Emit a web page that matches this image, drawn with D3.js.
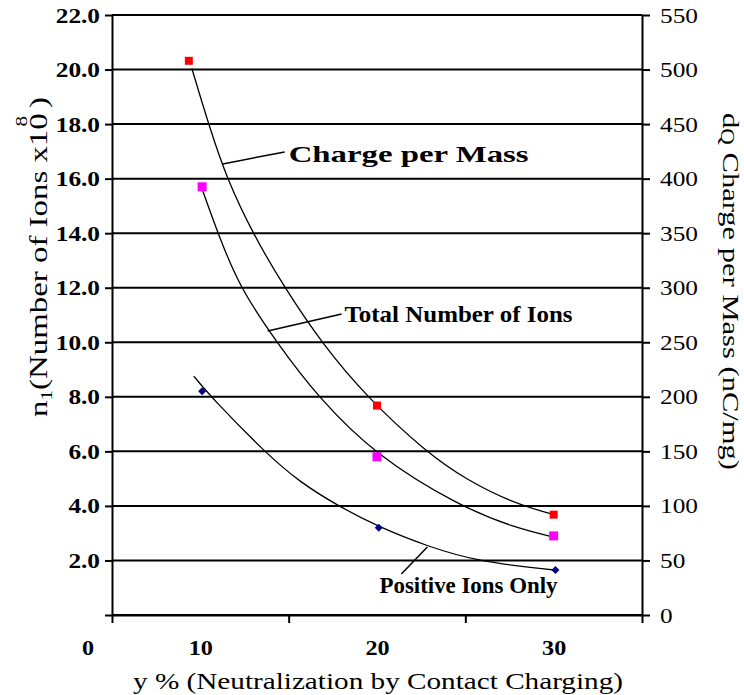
<!DOCTYPE html>
<html><head><meta charset="utf-8">
<script src="https://cdn.jsdelivr.net/npm/d3@7/dist/d3.min.js"></script>
<style>
html,body{margin:0;padding:0;background:#fff;}
svg{display:block;}
text{font-family:"Liberation Serif","Times New Roman",serif;fill:#000;}
</style></head><body>
<svg id="chart" width="744" height="695"></svg>
<script>
// ---------------- data ----------------
const xCategories = [10, 20, 30];
const xBoundaryTicks = [5, 15, 25, 35];
const leftTicks = [0, 2, 4, 6, 8, 10, 12, 14, 16, 18, 20, 22];
const rightTicks = [0, 50, 100, 150, 200, 250, 300, 350, 400, 450, 500, 550];

// Charge per mass (right axis, nC/mg)
const chargeX = [9.35, 20, 30];
const chargeValues = [508, 192, 92];
// Total number of ions (left axis, x10^8)
const totalX = [10.1, 20, 30];
const totalValues = [15.7, 5.8, 2.9];
// Positive ions only (left axis, x10^8)
const positiveX = [10.1, 20.1, 30.1];
const positiveValues = [8.2, 3.2, 1.65];

// trend curves
const chargeCurveX = [9.52, 10.54, 11.5, 13.02, 14.77, 16.92, 19.41, 22.8, 25.06, 27.65, 30];
const chargeCurveV = [501, 446, 400, 348, 300, 248, 200, 149, 124, 103, 92];
const totalCurveX = [10.14, 10.99, 12.23, 14.32, 16.64, 19.97, 24.66, 27.66, 29.98];
const totalCurveV = [15.55, 14.0, 12.0, 10.0, 8.0, 5.83, 4.0, 3.23, 2.86];
const positiveCurveX = [9.63, 10.65, 13.76, 15.62, 17.71, 20.08, 22.8, 25.79, 30.03];
const positiveCurveV = [8.76, 7.96, 5.90, 4.88, 4.03, 3.23, 2.53, 1.94, 1.65];

// annotations (left-axis units)
const annotationTexts = ["Charge per Mass", "Total Number of Ions", "Positive Ions Only"];
const annotationCurvePt = [[11.27, 16.54], [13.81, 10.41], [22.85, 2.49]];
const annotationElbowPt = [[14.77, 16.98], [18.0, 11.04], [21.38, 1.50]];
const annotationTextPt = [[15.0, 16.61], [18.16, 10.74], [20.14, 0.81]];

// ---------------- layout ----------------
const annotationWidths = [240, 228, 178];
const svg = d3.select('#chart');
const P = {left: 112, right: 642, top: 15, bottom: 615};
const x = d3.scaleLinear().domain([5, 35]).range([P.left, P.right]);
const yL = d3.scaleLinear().domain([0, 22]).range([P.bottom, P.top]);
const yR = d3.scaleLinear().domain([0, 550]).range([P.bottom, P.top]);

function stretch(sel, k) {
  sel.each(function () {
    const L = this.getComputedTextLength();
    d3.select(this).attr('textLength', L * k).attr('lengthAdjust', 'spacingAndGlyphs');
  });
}
function fitTo(sel, target) {
  sel.attr('textLength', target).attr('lengthAdjust', 'spacingAndGlyphs');
}

// grid
svg.append('g').selectAll('line').data(leftTicks).join('line')
  .attr('x1', P.left).attr('x2', P.right)
  .attr('y1', d => yL(d)).attr('y2', d => yL(d))
  .attr('stroke', '#000').attr('stroke-width', 2);

function styleAxis(g) {
  g.attr('font-family', null);
  g.selectAll('path.domain').attr('stroke', '#000').attr('stroke-width', 2);
  g.selectAll('.tick line').attr('stroke', '#000').attr('stroke-width', 2);
  g.selectAll('.tick text').attr('fill', '#000')
    .style('font-family', '"Liberation Serif","Times New Roman",serif');
}

// left axis
const gL = svg.append('g').attr('transform', `translate(${P.left},0)`)
  .call(d3.axisLeft(yL).tickValues(leftTicks).tickSize(7).tickSizeOuter(0).tickPadding(5)
    .tickFormat(d => d === 0 ? '' : d3.format('.1f')(d)));
styleAxis(gL);
gL.selectAll('.tick text').style('font-size', '22px').style('font-weight', 'bold').call(stretch, 1.15);

// right axis
const gR = svg.append('g').attr('transform', `translate(${P.right},0)`)
  .call(d3.axisRight(yR).tickValues(rightTicks).tickSize(8).tickSizeOuter(0).tickPadding(10));
styleAxis(gR);
gR.selectAll('.tick text').style('font-size', '22px').call(stretch, 1.15);

// bottom axis ticks
const gB = svg.append('g').attr('transform', `translate(0,${P.bottom})`)
  .call(d3.axisBottom(x).tickValues(xBoundaryTicks).tickSize(8).tickSizeOuter(0).tickFormat(''));
styleAxis(gB);
const gB2 = svg.append('g').attr('transform', `translate(0,${P.bottom})`)
  .call(d3.axisBottom(x).tickValues(xCategories).tickSize(0).tickPadding(24).tickFormat(d3.format('d')));
gB2.select('path.domain').remove();
styleAxis(gB2);
gB2.selectAll('.tick text').style('font-size', '22px').style('font-weight', 'bold').call(stretch, 1.1);
// origin label
svg.append('text').attr('x', P.left - 24).attr('y', P.bottom + 40).attr('text-anchor', 'middle')
  .style('font-size', '22px').style('font-weight', 'bold').text('0').call(stretch, 1.1);

// curves
const zip = (a, b) => a.map((v, i) => [v, b[i]]);
const lineL = d3.line().x(d => x(d[0])).y(d => yL(d[1])).curve(d3.curveBasis);
const lineR = d3.line().x(d => x(d[0])).y(d => yR(d[1])).curve(d3.curveBasis);
const gC = svg.append('g').attr('fill', 'none').attr('stroke', '#000').attr('stroke-width', 1.3);
gC.append('path').attr('d', lineR(zip(chargeCurveX, chargeCurveV)));
gC.append('path').attr('d', lineL(zip(totalCurveX, totalCurveV)));
gC.append('path').attr('d', lineL(zip(positiveCurveX, positiveCurveV)));

// points
svg.append('g').selectAll('rect').data(zip(chargeX, chargeValues)).join('rect')
  .attr('x', d => x(d[0]) - 4).attr('y', d => yR(d[1]) - 4).attr('width', 8).attr('height', 8)
  .attr('fill', '#ff0000');
svg.append('g').selectAll('rect').data(zip(totalX, totalValues)).join('rect')
  .attr('x', d => x(d[0]) - 4.5).attr('y', d => yL(d[1]) - 4.5).attr('width', 9).attr('height', 9)
  .attr('fill', '#ff00ff');
svg.append('g').selectAll('path').data(zip(positiveX, positiveValues)).join('path')
  .attr('d', d3.symbol(d3.symbolSquare, 32))
  .attr('transform', d => `translate(${x(d[0])},${yL(d[1])}) rotate(45)`)
  .attr('fill', '#000080');

// annotations
const gA = svg.append('g');
annotationTexts.forEach((t, i) => {
  gA.append('line')
    .attr('x1', x(annotationCurvePt[i][0])).attr('y1', yL(annotationCurvePt[i][1]))
    .attr('x2', x(annotationElbowPt[i][0])).attr('y2', yL(annotationElbowPt[i][1]))
    .attr('stroke', '#000').attr('stroke-width', 1.5);
  gA.append('text').attr('x', x(annotationTextPt[i][0])).attr('y', yL(annotationTextPt[i][1]))
    .style('font-size', i === 0 ? '24px' : '23px').style('font-weight', 'bold')
    .text(t).call(fitTo, annotationWidths[i]);
});

// bottom title
svg.append('text').attr('x', 378).attr('y', 689).attr('text-anchor', 'middle')
  .style('font-size', '24px').text('y % (Neutralization by Contact Charging)').call(fitTo, 490);

// left title
const lt = svg.append('text').attr('text-anchor', 'middle').style('font-size', '25px');
lt.append('tspan').text('n');
lt.append('tspan').text('1').style('font-size', '16px').attr('dy', 5);
lt.append('tspan').text('(Number of Ions x10').attr('dy', -5);
lt.append('tspan').text('8').style('font-size', '16px').attr('dx', -10).attr('dy', -20);
lt.append('tspan').text(')').attr('dx', 6).attr('dy', 20);
{
  const L = lt.node().getBBox().width;
  lt.attr('transform', `translate(47,257) rotate(-90) scale(${320 / L},1)`);
}

// right title
const rt = svg.append('text').attr('text-anchor', 'middle').style('font-size', '24px');
rt.append('tspan').text('d');
rt.append('tspan').text('Q').style('font-size', '18px').attr('dy', 2);
rt.append('tspan').text(' Charge per Mass (nC/mg)').attr('dy', -2);
{
  const L = rt.node().getBBox().width;
  rt.attr('transform', `translate(723,291.5) rotate(90) scale(${357 / L},1)`);
}
</script>
</body></html>
